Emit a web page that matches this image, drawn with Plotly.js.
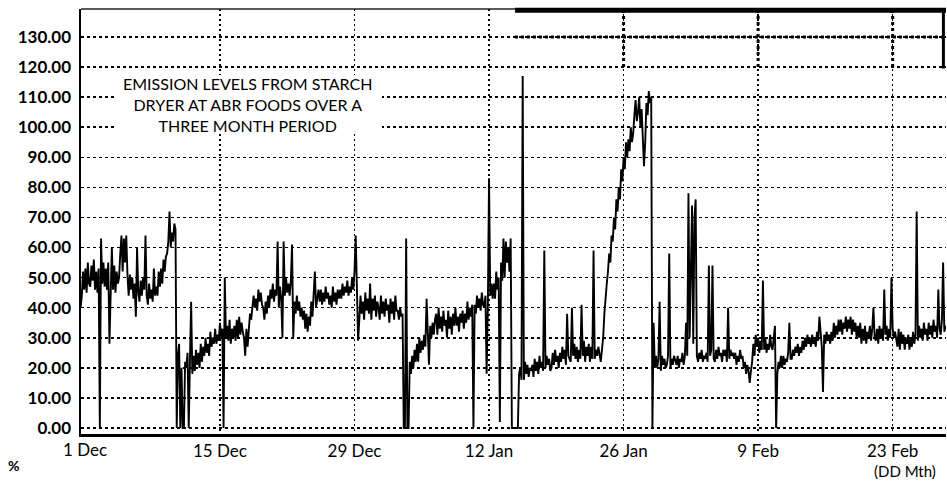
<!DOCTYPE html>
<html>
<head>
<meta charset="utf-8">
<script src="https://cdn.plot.ly/plotly-3.0.1.min.js"></script>
<style>html,body{margin:0;padding:0;background:#fff;}#chart{width:947px;height:485px;}</style>
</head>
<body>
<div id="chart"></div>
<script>
// Sampling: first sample at day -0.5 (relative to 1 Dec), 8 samples per day
const startDay = -0.5;
const stepDay = 0.125;

// Emission level (%), one row of 8 samples per day
const emission = [
  40,44,52,46,53,45,55,48,   47,54,49,56,46,52,45,53,   0,63,48,55,47,53,46,55,    28,50,60,46,54,45,52,48,
  50,58,64,52,63,55,64,51,   44,51,46,50,43,48,37,60,   45,42,49,44,50,46,64,44,   41,48,43,46,42,53,44,47,
  44,52,47,53,48,56,52,57,   58,62,72,60,65,62,68,66,   0,24,28,0,20,0,0,22,       20,25,0,22,42,18,24,19,
  26,21,25,20,28,22,27,24,   30,25,28,24,32,27,30,28,   33,28,31,29,35,30,33,0,    50,30,34,29,36,28,33,30,
  34,29,36,30,37,31,35,32,   30,24,33,27,34,38,36,40,   44,40,43,39,46,42,45,41,   40,36,42,38,44,40,46,43,
  48,42,46,44,62,40,47,43,   30,62,44,50,45,48,44,49,   61,30,42,38,44,39,42,37,   40,36,39,33,38,32,37,34,
  42,37,44,52,40,43,46,42,   46,41,45,42,47,43,45,41,   44,40,47,42,45,41,46,43,   46,43,48,44,47,45,49,44,
  47,45,50,46,52,64,44,29,   36,44,38,42,36,45,39,43,   38,48,36,43,39,44,37,42,   40,36,44,38,42,37,43,39,
  41,35,43,38,42,36,44,39,   39,36,40,37,38,0,0,63,     0,0,22,18,24,20,26,22,     28,22,30,25,29,26,31,27,
  43,30,21,34,30,35,31,36,   38,31,40,33,37,32,39,34,   36,30,39,33,37,31,38,34,   40,34,37,32,38,35,39,33,
  38,35,42,36,40,37,41,0,    41,38,44,40,43,39,45,41,   40,44,18,40,83,44,48,43,   48,43,52,46,50,2,55,49,
  63,50,62,55,60,52,63,0,    0,0,0,0,0,18,20,16,        117,16,22,18,21,17,20,19,  21,17,23,19,22,18,24,20,
  22,19,59,20,24,21,23,19,   20,25,21,26,22,24,20,25,   22,27,23,26,21,38,24,23,   22,40,24,28,23,27,22,26,
  23,41,24,29,22,27,24,28,   22,27,23,59,23,26,24,27,   25,22,26,30,38,44,48,52,   58,55,64,62,70,66,76,72,
  80,76,86,82,90,86,95,90,   96,92,100,95,98,104,109,102, 105,110,100,106,94,87,95,108, 104,112,108,110,0,35,20,24,
  20,23,42,19,24,21,23,20,   21,24,58,20,23,21,24,22,   21,24,20,23,22,25,21,24,   35,24,78,30,60,74,28,70,
  76,24,22,25,23,26,22,24,   23,25,22,54,24,26,54,23,   22,26,23,27,24,25,22,26,   24,26,22,40,23,26,24,25,
  23,25,21,24,22,26,23,24,   20,22,18,21,19,15,19,22,   28,24,31,27,30,25,29,26,   49,26,30,25,28,26,31,27,
  26,30,34,0,18,22,20,24,    20,24,21,23,22,25,35,23,   23,26,24,27,25,28,24,27,   25,29,26,30,27,31,28,30,
  27,31,28,30,27,32,29,37,   30,27,12,31,28,32,29,31,   28,32,29,35,30,34,31,36,   32,36,31,35,33,37,32,36,
  33,37,31,36,32,35,30,34,   30,35,28,33,29,34,28,32,   30,34,29,33,40,30,29,33,   28,34,30,33,29,46,31,34,
  29,33,30,50,33,30,32,29,   27,33,26,32,28,31,26,30,   28,31,26,30,27,32,28,31,   72,29,34,30,33,29,35,31,
  33,29,35,31,34,30,36,32,   34,30,46,33,31,36,55,32,
  34
];

// Axis ticks
const tickDays = [0, 14, 28, 42, 56, 70, 84];
const tickLabels = ["1 Dec", "15 Dec", "29 Dec", "12 Jan", "26 Jan", "9 Feb", "23 Feb"];
const yTicks = [0, 10, 20, 30, 40, 50, 60, 70, 80, 90, 100, 110, 120, 130];

// Note text
const noteLines = ["EMISSION LEVELS FROM STARCH", "DRYER AT ABR FOODS OVER A", "THREE MONTH PERIOD"];

const FONT = "Lato, 'Open Sans', sans-serif";

const trace = {
  type: "scatter",
  mode: "lines",
  x0: startDay,
  dx: stepDay,
  y: emission,
  line: { color: "#000", width: 1.9 },
  hoverinfo: "skip",
  showlegend: false
};

const splitX = 0.5017; // where the heavy top border begins (paper fraction)

const shapes = [
  { type: "line", xref: "paper", yref: "paper", x0: 0, x1: splitX, y0: 1, y1: 1,
    line: { color: "#222", width: 1.5 } },
  { type: "line", xref: "paper", yref: "paper", x0: splitX, x1: 1, y0: 0.997, y1: 0.997,
    line: { color: "#000", width: 5 } },
  { type: "line", xref: "paper", yref: "y", x0: 0.997, x1: 0.997, y0: 119.5, y1: 139.3,
    line: { color: "#000", width: 3 } },
  { type: "line", xref: "paper", yref: "y", x0: splitX, x1: 1, y0: 130, y1: 130,
    line: { color: "#000", width: 3, dash: "dot" } },
  // white box behind the note
  { type: "rect", xref: "paper", yref: "paper", x0: 0.0393, x1: 0.348, y0: 0.7059, y1: 0.8447,
    fillcolor: "#fff", line: { width: 0 }, layer: "above" }
];
tickDays.slice(4).forEach(function (d) {
  shapes.push({ type: "line", xref: "x", yref: "y", x0: d, x1: d, y0: 120, y1: 139.3,
    line: { color: "#000", width: 3, dash: "dot" } });
});

const annotations = [
  { xref: "paper", yref: "paper", x: 0.193, y: 0.7753, xanchor: "center", yanchor: "middle",
    text: noteLines.join("<br>"), align: "center", showarrow: false,
    font: { family: FONT, size: 16, color: "#000" } },
  { xref: "x", yref: "paper", x: tickDays[0], y: 0, xanchor: "center", yanchor: "top", yshift: -3,
    text: tickLabels[0], showarrow: false, font: { family: FONT, size: 17, color: "#000" } },
  { xref: "paper", yref: "paper", x: -0.0775, y: -0.074, xanchor: "center", yanchor: "middle",
    text: "%", showarrow: false, font: { family: FONT, size: 14, color: "#000", weight: "bold" } },
  { xref: "paper", yref: "paper", x: 0.9526, y: -0.087, xanchor: "center", yanchor: "middle",
    text: "(DD Mth)", showarrow: false, font: { family: FONT, size: 15, color: "#000" } }
];

const layout = {
  width: 947,
  height: 485,
  margin: { l: 81, r: 1, t: 9, b: 51 },
  paper_bgcolor: "#fff",
  plot_bgcolor: "#fff",
  showlegend: false,
  font: { family: FONT, color: "#000" },
  xaxis: {
    range: [-0.46, 89.55],
    tickmode: "array",
    tickvals: tickDays.slice(1),
    ticktext: tickLabels.slice(1),
    showgrid: true,
    gridcolor: "#000",
    gridwidth: 1.5,
    griddash: "2px,3px",
    zeroline: false,
    showline: true,
    linecolor: "#000",
    linewidth: 3,
    ticks: "",
    ticklabelstandoff: 0,
    tickfont: { family: FONT, size: 17, color: "#000" }
  },
  yaxis: {
    range: [-2, 139.3],
    tickmode: "array",
    tickvals: yTicks,
    tickformat: ".2f",
    showgrid: true,
    gridcolor: "#000",
    gridwidth: 1.5,
    griddash: "3px,3px",
    zeroline: false,
    showline: true,
    linecolor: "#000",
    linewidth: 2.5,
    ticks: "",
    ticklabelstandoff: 4,
    tickfont: { family: FONT, size: 17, color: "#000", weight: "bold" }
  },
  shapes: shapes,
  annotations: annotations
};

Plotly.newPlot("chart", [trace], layout, { staticPlot: true, displayModeBar: false });
</script>
</body>
</html>
